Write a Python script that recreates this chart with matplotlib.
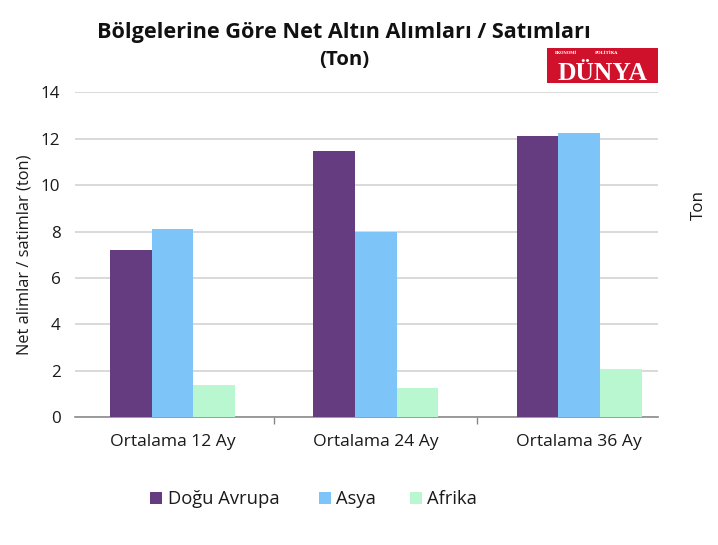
import matplotlib
matplotlib.use("Agg")
import matplotlib.pyplot as plt
from matplotlib.patches import Rectangle
import numpy as np

plt.rcParams['font.family'] = ['Open Sans', 'DejaVu Sans']

categories = ["Ortalama 12 Ay", "Ortalama 24 Ay", "Ortalama 36 Ay"]
series_names = ["Doğu Avrupa", "Asya", "Afrika"]
dogu_avrupa = [7.2, 11.45, 12.12]
asya = [8.12, 8.0, 12.25]
afrika = [1.38, 1.25, 2.1]
yticks = [0, 2, 4, 6, 8, 10, 12, 14]

colors = ["#663c80", "#7dc5f8", "#b8f7d0"]
series = [dogu_avrupa, asya, afrika]

W, H = 718, 545
fig = plt.figure(figsize=(W / 100, H / 100), dpi=100)
fig.patch.set_facecolor("white")
renderer = fig.canvas.get_renderer()


def fx(px):
    return px / W


def fy(py):
    return 1 - py / H


def fit(t, target_px, horizontal=True):
    """Scale a text's font size so its extent matches target_px."""
    fs = t.get_fontsize()
    for _ in range(3):
        bb = t.get_window_extent(renderer)
        cur = bb.width if horizontal else bb.height
        if cur > 0:
            fs = fs * target_px / cur
            t.set_fontsize(fs)
    return fs


ax = fig.add_axes([fx(75), fy(417.3), fx(657.7) - fx(75), fy(92.3) - fy(417.3)])

x = np.arange(len(categories))
w = 0.205
for k, (vals, c) in enumerate(zip(series, colors)):
    ax.bar(x + (k - 1) * w, vals, width=w, color=c, edgecolor="none", zorder=3)

ax.set_xlim(-0.48, 2.387)
ax.set_ylim(0, 14)
ax.set_yticks(yticks)
ax.set_yticklabels([str(v) for v in yticks], color="#1a1a1a")
ax.set_xticks(x)
ax.set_xticklabels(categories, color="#1a1a1a")
ax.set_xticks([0.5, 1.5], minor=True)
ax.tick_params(axis="x", which="major", length=0, pad=12)
ax.tick_params(axis="x", which="minor", length=5, width=1, color="#888888", direction="out")
ax.tick_params(axis="y", length=0, pad=10.5)
ax.yaxis.grid(True, color="#d9d9d9", linewidth=1.4, zorder=0)
ax.set_axisbelow(True)
for s in ["top", "right", "left"]:
    ax.spines[s].set_visible(False)
ax.spines["bottom"].set_color("#8c8c8c")
ax.spines["bottom"].set_linewidth(1.2)

# fit tick label sizes
xl = ax.get_xticklabels()
fs_x = fit(xl[0], 125.7)
for t in xl:
    t.set_fontsize(fs_x)
yl = ax.get_yticklabels()
fs_y = fit(yl[-1], 19.5)
for t in yl:
    t.set_fontsize(fs_y)

ylab = ax.set_ylabel("Net alimlar / satimlar (ton)", color="#1a1a1a")
fit(ylab, 201, horizontal=False)
ylab.set_verticalalignment("center")
ax.yaxis.set_label_coords((25 - 75) / (657.7 - 75), 0.5)

title = fig.text(fx(344), fy(38), "Bölgelerine Göre Net Altın Alımları / Satımları",
                 fontsize=16, fontweight="bold", ha="center", va="baseline", color="#111111")
fit(title, 492)
ton = fig.text(fx(344), fy(60), "(Ton)", fontsize=14, fontweight="bold",
               ha="center", va="center", color="#111111")
fit(ton, 50)
ton_r = fig.text(fx(699), fy(205), "Ton", fontsize=12, rotation=90,
                 ha="center", va="center", color="#1a1a1a")
fit(ton_r, 30, horizontal=False)

# logo
fig.patches.append(Rectangle((fx(546.7), fy(83.3)), fx(657.7) - fx(546.7), fy(47.7) - fy(83.3),
                             transform=fig.transFigure, facecolor="#d0112b",
                             edgecolor="none", zorder=5))
s1 = fig.text(fx(566), fy(53.5), "EKONOMİ", fontsize=3.5, fontweight="bold", color="white",
              ha="center", va="center", family=["DejaVu Serif"], zorder=6)
fit(s1, 22)
s2 = fig.text(fx(607), fy(53.5), "POLİTİKA", fontsize=3.5, fontweight="bold", color="white",
              ha="center", va="center", family=["DejaVu Serif"], zorder=6)
fit(s2, 23)
big = fig.text(fx(603), fy(80), "DÜNYA", fontsize=19, fontweight="bold",
               color="white", ha="center", va="baseline", family=["Liberation Serif"], zorder=6)
fit(big, 90)

# legend (manual layout)
text_x = [167.7, 336, 427]
leg_texts = []
for tx, name, c in zip(text_x, series_names, colors):
    fig.patches.append(Rectangle((fx(tx - 17.5), fy(504)), fx(12), fy(492) - fy(504),
                                 transform=fig.transFigure, facecolor=c, edgecolor="none"))
    leg_texts.append(fig.text(fx(tx), fy(504), name, ha="left", va="baseline",
                              fontsize=13, color="#1a1a1a"))
fs_l = fit(leg_texts[0], 111)
for t in leg_texts:
    t.set_fontsize(fs_l)

fig.savefig("out.png", dpi=100)
